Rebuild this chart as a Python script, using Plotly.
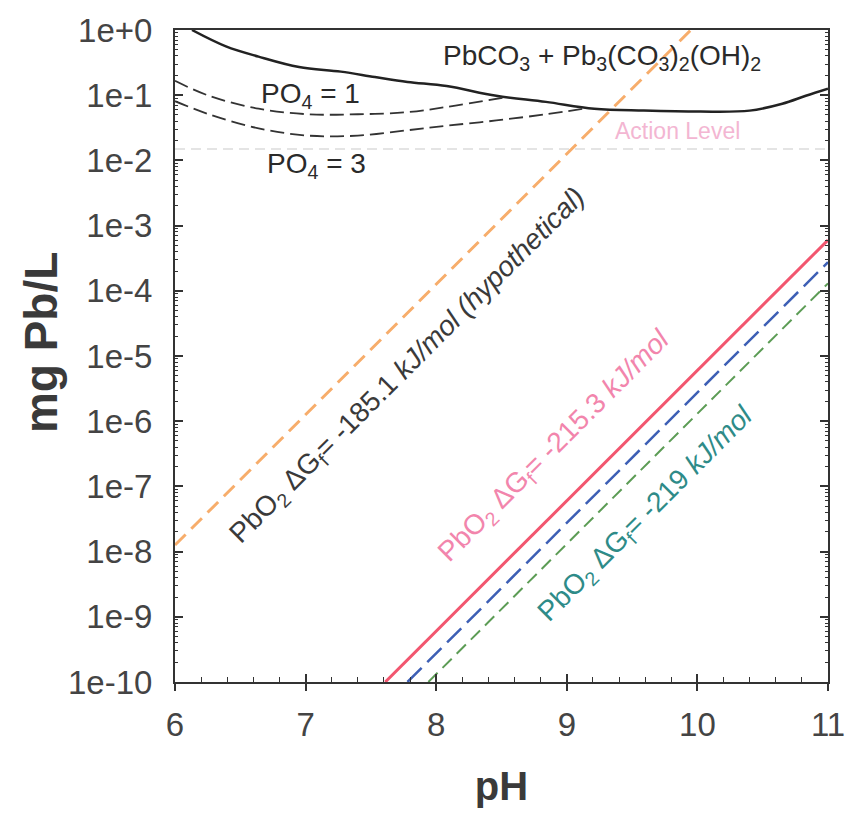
import numpy as np
import plotly.graph_objects as go

# pH axis values and Pb solubility (mg Pb/L) read for each curve
ph_carb = [6.13, 6.39, 6.64, 6.95, 7.27, 7.53, 7.78, 8.08, 8.46, 8.84, 9.21, 9.59, 10.02, 10.40, 10.65, 10.83, 11.0]
pb_carb = [1.0, 0.56, 0.39, 0.27, 0.23, 0.19, 0.16, 0.138, 0.098, 0.079, 0.062, 0.058, 0.056, 0.058, 0.074, 0.098, 0.126]

ph_po4_1 = [6.0, 6.26, 6.64, 7.02, 7.40, 7.78, 8.08, 8.53]
pb_po4_1 = [0.166, 0.098, 0.062, 0.051, 0.051, 0.055, 0.066, 0.093]

ph_po4_3 = [6.0, 6.26, 6.64, 7.02, 7.40, 7.78, 8.08, 8.46, 8.84, 9.15]
pb_po4_3 = [0.081, 0.051, 0.031, 0.024, 0.024, 0.029, 0.034, 0.041, 0.051, 0.063]

# PbO2 solubility lines (end points)
ph_pbo2_hyp = [6.0, 9.95]
pb_pbo2_hyp = [1.26e-8, 1.0]
ph_pbo2_2153 = [7.61, 11.0]
pb_pbo2_2153 = [1.0e-10, 6.0e-4]
ph_pbo2_mid = [7.78, 11.0]
pb_pbo2_mid = [1.0e-10, 2.75e-4]
ph_pbo2_219 = [7.94, 11.0]
pb_pbo2_219 = [1.0e-10, 1.3e-4]

# Lead action level (mg/L)
action_ph = [6.0, 11.0]
action_level = [0.015, 0.015]

x_ticks = [6, 7, 8, 9, 10, 11]
y_tickvals = [1e0, 1e-1, 1e-2, 1e-3, 1e-4, 1e-5, 1e-6, 1e-7, 1e-8, 1e-9, 1e-10]
y_ticktext = ["1e+0", "1e-1", "1e-2", "1e-3", "1e-4", "1e-5", "1e-6", "1e-7", "1e-8", "1e-9", "1e-10"]

FONT = "Liberation Sans, Arial, sans-serif"
AX = "#333333"

fig = go.Figure()

fig.add_trace(go.Scatter(x=action_ph, y=action_level, mode="lines",
                         line=dict(color="#dcdcdc", width=1.5, dash="10px,6px")))
fig.add_trace(go.Scatter(x=ph_carb, y=pb_carb, mode="lines", line_shape="spline",
                         line=dict(color="#222222", width=2.5)))
fig.add_trace(go.Scatter(x=ph_po4_1, y=pb_po4_1, mode="lines", line_shape="spline",
                         line=dict(color="#333333", width=1.8, dash="14px,6px")))
fig.add_trace(go.Scatter(x=ph_po4_3, y=pb_po4_3, mode="lines", line_shape="spline",
                         line=dict(color="#333333", width=1.8, dash="14px,6px")))
fig.add_trace(go.Scatter(x=ph_pbo2_hyp, y=pb_pbo2_hyp, mode="lines",
                         line=dict(color="#f7ad6b", width=3, dash="15px,8px")))
fig.add_trace(go.Scatter(x=ph_pbo2_2153, y=pb_pbo2_2153, mode="lines",
                         line=dict(color="#f2566f", width=3)))
fig.add_trace(go.Scatter(x=ph_pbo2_mid, y=pb_pbo2_mid, mode="lines",
                         line=dict(color="#3d5fb5", width=2.5, dash="20px,8px")))
fig.add_trace(go.Scatter(x=ph_pbo2_219, y=pb_pbo2_219, mode="lines",
                         line=dict(color="#5c9c55", width=2, dash="13px,7px")))

# invisible trace on the overlay axis so its outside ticks render
fig.add_trace(go.Scatter(x=[6, 11], y=[1e-10, 1e-10], xaxis="x2", mode="lines",
                         line=dict(width=0), hoverinfo="skip"))


def ann(text, ph, pb, size, color, angle=0):
    fig.add_annotation(x=ph, y=np.log10(pb), text=text, showarrow=False, textangle=angle,
                       font=dict(family=FONT, size=size, color=color))


ann("PbCO<sub>3</sub> + Pb<sub>3</sub>(CO<sub>3</sub>)<sub>2</sub>(OH)<sub>2</sub>", 9.27, 10 ** -0.42, 28, "#2a2a2a")
ann("PO<sub>4</sub> = 1", 7.04, 10 ** -1.01, 28, "#2a2a2a")
ann("PO<sub>4</sub> = 3", 7.08, 10 ** -2.08, 28, "#2a2a2a")
ann("Action Level", 9.85, 10 ** -1.55, 23, "#f3b6d2")
ann("PbO<sub>2</sub> ΔG<sub>f</sub>= -185.1 <i>kJ/mol (hypothetical)</i>", 7.785, 10 ** -5.16, 28, "#3a3a3a", -45)
ann("PbO<sub>2</sub> ΔG<sub>f</sub>= -215.3 <i>kJ/mol</i>", 8.91, 10 ** -6.39, 28, "#f285ac", -45)
ann("PbO<sub>2</sub> ΔG<sub>f</sub>= -219 <i>kJ/mol</i>", 9.61, 10 ** -7.43, 28, "#2e8b88", -45)

# y-axis title, set beside the tick labels
fig.add_annotation(xref="paper", yref="paper", x=-0.204, y=0.521, text="<b>mg Pb/L</b>",
                   showarrow=False, textangle=-90, xanchor="center", yanchor="middle",
                   font=dict(family=FONT, size=46, color="#3a3a3a"))

fig.update_layout(
    width=857, height=815,
    margin=dict(l=175, r=21, t=26, b=133),
    paper_bgcolor="white", plot_bgcolor="white",
    showlegend=False,
    font=dict(family=FONT, color="#444444"),
    xaxis=dict(
        range=[6, 11], tickvals=x_ticks, ticks="inside", ticklen=8, tickwidth=2,
        tickcolor=AX, showline=True, linecolor=AX, linewidth=2, mirror=True,
        showgrid=False, zeroline=False,
        minor=dict(dtick=0.2, ticks="inside", ticklen=5, tickwidth=1.2, tickcolor=AX, showgrid=False),
        tickfont=dict(family=FONT, size=33, color="#444444"), ticklabelstandoff=12,
        title=dict(text="<b>pH</b>", font=dict(family=FONT, size=40, color="#3a3a3a"), standoff=30),
    ),
    xaxis2=dict(
        range=[6, 11], overlaying="x", side="bottom", anchor="y", tickvals=x_ticks,
        ticks="outside", ticklen=8, tickwidth=2, tickcolor=AX, showticklabels=False,
        showgrid=False, zeroline=False, showline=False,
    ),
    yaxis=dict(
        type="log", range=[-10, 0], tickvals=y_tickvals, ticktext=y_ticktext,
        ticks="inside", ticklen=8, tickwidth=2, tickcolor=AX,
        showline=True, linecolor=AX, linewidth=2, mirror="ticks",
        showgrid=False, zeroline=False,
        minor=dict(dtick="D1", ticks="inside", ticklen=3, tickwidth=1, tickcolor=AX, showgrid=False),
        tickfont=dict(family=FONT, size=33, color="#444444"), ticklabelstandoff=14,
    ),
)

fig.write_html("out.html")
